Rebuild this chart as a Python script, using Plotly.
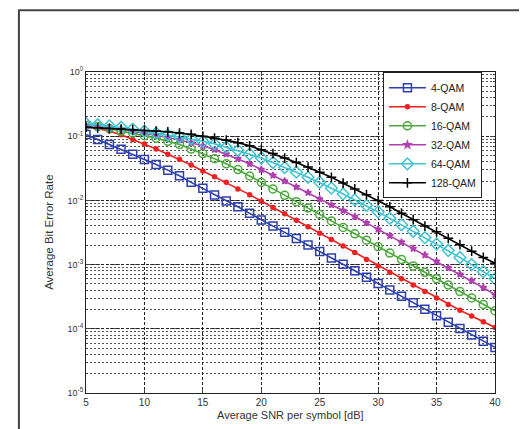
import plotly.graph_objects as go

snr_db = list(range(5, 41))

ber_4qam = [0.106, 0.0887, 0.0741, 0.0624, 0.0525, 0.0434, 0.0363, 0.0296, 0.0242, 0.0191,
            0.0154, 0.0121, 0.00977, 0.00798, 0.00628, 0.00494, 0.00398, 0.00318, 0.00254, 0.00202,
            0.00160, 0.00127, 0.00101, 8.04e-4, 6.38e-4, 5.07e-4, 4.03e-4, 3.20e-4, 2.54e-4, 2.02e-4,
            1.60e-4, 1.27e-4, 1.01e-4, 8.04e-5, 6.38e-5, 5.13e-5]
ber_8qam = [0.138, 0.132, 0.120, 0.105, 0.0891, 0.0759, 0.0631, 0.0525, 0.0437, 0.0355,
            0.0288, 0.0234, 0.0191, 0.0151, 0.0123, 0.00977, 0.00776, 0.00617, 0.00490, 0.00389,
            0.00309, 0.00245, 0.00195, 0.00155, 0.00120, 9.55e-4, 7.59e-4, 6.03e-4, 4.79e-4, 3.80e-4,
            3.02e-4, 2.40e-4, 1.95e-4, 1.58e-4, 1.29e-4, 1.05e-4]
ber_16qam = [0.148, 0.141, 0.132, 0.120, 0.112, 0.102, 0.0933, 0.0832, 0.0741, 0.0631,
             0.0537, 0.0447, 0.0372, 0.0302, 0.0240, 0.0191, 0.0151, 0.0120, 0.00955, 0.00759,
             0.00603, 0.00479, 0.00380, 0.00302, 0.00240, 0.00191, 0.00151, 0.00120, 9.55e-4, 7.59e-4,
             6.03e-4, 4.79e-4, 3.80e-4, 3.02e-4, 2.40e-4, 1.91e-4]
ber_32qam = [0.145, 0.141, 0.135, 0.129, 0.120, 0.112, 0.105, 0.0955, 0.0871, 0.0794,
             0.0708, 0.0617, 0.0525, 0.0447, 0.0372, 0.0302, 0.0245, 0.0200, 0.0162, 0.0132,
             0.0105, 0.00851, 0.00692, 0.00562, 0.00447, 0.00355, 0.00282, 0.00224, 0.00178, 0.00141,
             0.00112, 8.91e-4, 7.08e-4, 5.62e-4, 4.37e-4, 3.39e-4]
ber_64qam = [0.158, 0.151, 0.145, 0.138, 0.129, 0.120, 0.112, 0.105, 0.0977, 0.0912,
             0.0832, 0.0759, 0.0676, 0.0603, 0.0525, 0.0457, 0.0389, 0.0324, 0.0275, 0.0229,
             0.0191, 0.0155, 0.0126, 0.0102, 0.00832, 0.00661, 0.00525, 0.00417, 0.00331, 0.00263,
             0.00209, 0.00166, 0.00129, 0.00100, 7.76e-4, 6.03e-4]
ber_128qam = [0.138, 0.135, 0.132, 0.129, 0.126, 0.123, 0.120, 0.117, 0.112, 0.107,
              0.100, 0.0933, 0.0871, 0.0794, 0.0708, 0.0617, 0.0537, 0.0457, 0.0389, 0.0331,
              0.0275, 0.0229, 0.0186, 0.0151, 0.0123, 0.0100, 0.00794, 0.00631, 0.00501, 0.00398,
              0.00324, 0.00257, 0.00204, 0.00162, 0.00129, 0.00105]

series_names = ["4-QAM", "8-QAM", "16-QAM", "32-QAM", "64-QAM", "128-QAM"]
x_ticks = [5, 10, 15, 20, 25, 30, 35, 40]
y_tickvals = [1e-5, 1e-4, 1e-3, 1e-2, 1e-1, 1e0]
y_ticktext = ["10<sup>-5</sup>", "10<sup>-4</sup>", "10<sup>-3</sup>",
              "10<sup>-2</sup>", "10<sup>-1</sup>", "10<sup>0</sup>"]

styles = [
    dict(color="#2c3fb0", symbol="square-open", size=8, lw=1.6),
    dict(color="#f02020", symbol="circle", size=4, lw=1.6),
    dict(color="#4aaa3a", symbol="circle-open", size=8, lw=1.6),
    dict(color="#b040b0", symbol="star", size=5, lw=1.6),
    dict(color="#40c4d4", symbol="diamond-open", size=9, lw=1.6),
    dict(color="#000000", symbol="cross-thin-open", size=7, lw=1.6),
]
data = [ber_4qam, ber_8qam, ber_16qam, ber_32qam, ber_64qam, ber_128qam]

fig = go.Figure()
for name, ys, st in zip(series_names, data, styles):
    fig.add_trace(go.Scatter(
        x=snr_db, y=ys, name=name, mode="lines+markers",
        line=dict(color=st["color"], width=st["lw"]),
        marker=dict(symbol=st["symbol"], size=st["size"], color=st["color"],
                    line=dict(color=st["color"], width=1.5)),
    ))

font_family = "Liberation Sans, Arial, sans-serif"
fig.update_layout(
    width=519, height=421,
    margin=dict(l=78, r=32, t=64, b=36),
    paper_bgcolor="white", plot_bgcolor="white",
    font=dict(family=font_family, color="#333333"),
    showlegend=True,
    legend=dict(x=0.726, y=0.999, xanchor="left", yanchor="top",
                bgcolor="white", bordercolor="#222222", borderwidth=1,
                font=dict(size=10.5, color="#222222"), itemwidth=37,
                tracegroupgap=0),
    xaxis=dict(range=[5, 40], tickvals=x_ticks, ticks="inside", ticklen=4,
               showline=True, linecolor="#222222", linewidth=1, mirror="ticks",
               showgrid=True, gridcolor="#222222", griddash="3px,2px", gridwidth=1,
               zeroline=False, tickfont=dict(size=10, color="#333333")),
    yaxis=dict(type="log", range=[-5, 0], tickvals=y_tickvals, ticktext=y_ticktext,
               ticks="inside", ticklen=4,
               showline=True, linecolor="#222222", linewidth=1, mirror="ticks",
               showgrid=True, gridcolor="#222222", griddash="3px,2px", gridwidth=1,
               zeroline=False, tickfont=dict(size=9, color="#333333"),
               minor=dict(dtick="D1", showgrid=True, gridcolor="#555555",
                          griddash="2px,2px", gridwidth=1, ticks="inside", ticklen=2)),
    annotations=[
        dict(text="Average SNR per symbol [dB]", xref="paper", yref="paper",
             x=0.5, y=-0.07, xanchor="center", yanchor="middle", showarrow=False,
             font=dict(size=11, color="#333333")),
        dict(text="Average Bit Error Rate", xref="paper", yref="paper",
             x=-0.092, y=0.5, xanchor="center", yanchor="middle", showarrow=False,
             textangle=-90, font=dict(size=11.5, color="#333333")),
    ],
    shapes=[
        dict(type="rect", xref="paper", yref="paper",
             x0=-0.164, y0=-0.2, x1=1.2, y1=1.192,
             line=dict(color="#444444", width=2), fillcolor="rgba(0,0,0,0)", layer="below"),
    ],
)

fig.write_html("out.html")
